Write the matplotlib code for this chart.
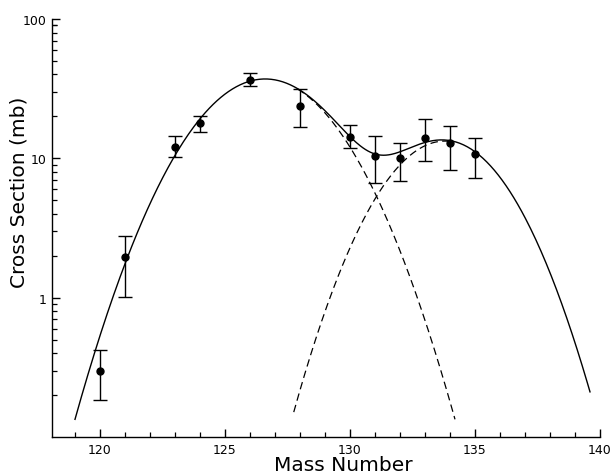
import numpy as np
import matplotlib
matplotlib.use("Agg")
import matplotlib.pyplot as plt
from matplotlib.ticker import FixedLocator, FixedFormatter, NullFormatter

# Measured cross sections (mb) with asymmetric uncertainties
mass = [120, 121, 123, 124, 126, 128, 130, 131, 132, 133, 134, 135]
sigma_mb = [0.30, 1.97, 12.0, 17.8, 36.5, 23.7, 14.3, 10.45, 10.05, 14.0, 12.8, 10.8]
err_hi = [0.42, 2.76, 14.5, 20.0, 41.0, 31.3, 17.4, 14.5, 12.8, 19.3, 17.0, 13.9]
err_lo = [0.184, 1.006, 10.2, 15.4, 33.2, 16.7, 11.9, 6.62, 6.91, 9.53, 8.28, 7.19]

# Two Gaussian components of the fit: (amplitude mb, centroid, width)
comp1 = (37.1, 126.6, 2.266)
comp2 = (13.3, 133.79, 2.018)

# Ranges over which each curve is drawn
sum_range = (119.0, 139.6)
comp1_range = (127.9, 134.2)
comp2_range = (127.75, 134.1)

xtick_major = [120, 125, 130, 135, 140]
xtick_labels = ["120", "125", "130", "135", "140"]
ytick_major = [1, 10, 100]
ytick_labels = ["1", "10", "100"]


def gauss(x, p):
    a, mu, s = p
    return a * np.exp(-(x - mu) ** 2 / (2 * s ** 2))


plt.rcParams["font.family"] = ["DejaVu Sans"]

fig = plt.figure(figsize=(6.13, 4.77), dpi=100)
ax = fig.add_axes([52 / 613, 1 - 438 / 477, (600 - 52) / 613, (438 - 20) / 477])

ax.set_yscale("log")
ax.set_xlim(118.08, 140.0)
ax.set_ylim(0.1, 100)

xs = np.linspace(*sum_range, 400)
ax.plot(xs, gauss(xs, comp1) + gauss(xs, comp2), color="black", lw=1.0)

x1 = np.linspace(*comp1_range, 200)
ax.plot(x1, gauss(x1, comp1), color="black", lw=0.9, dashes=(6, 3.5))
x2 = np.linspace(*comp2_range, 200)
ax.plot(x2, gauss(x2, comp2), color="black", lw=0.9, dashes=(6, 3.5))

yerr = [np.array(sigma_mb) - np.array(err_lo), np.array(err_hi) - np.array(sigma_mb)]
ax.errorbar(mass, sigma_mb, yerr=yerr, fmt="o", color="black", ms=5,
            elinewidth=1.0, capsize=5, capthick=1.0)

for side in ("top", "right"):
    ax.spines[side].set_visible(False)
for side in ("left", "bottom"):
    ax.spines[side].set_linewidth(1.0)

ax.xaxis.set_major_locator(FixedLocator(xtick_major))
ax.xaxis.set_major_formatter(FixedFormatter(xtick_labels))
ax.xaxis.set_minor_locator(FixedLocator(np.arange(119, 141, 1)))
ax.yaxis.set_major_locator(FixedLocator(ytick_major))
ax.yaxis.set_major_formatter(FixedFormatter(ytick_labels))
minor_y = [m * d for d in (0.1, 1, 10) for m in range(2, 10)] + [90]
ax.yaxis.set_minor_locator(FixedLocator(minor_y))
ax.yaxis.set_minor_formatter(NullFormatter())

ax.tick_params(which="major", direction="in", length=6, width=1.0, labelsize=9, pad=4)
ax.tick_params(which="minor", direction="in", length=3.5, width=0.9)

fig.text(19 / 613, 1 - 192 / 477, "Cross Section (mb)", rotation=90,
         ha="center", va="center", fontsize=14.5)
fig.text(343 / 613, 1 - 466 / 477, "Mass Number", ha="center", va="center",
         fontsize=14.5)

fig.savefig("out.png", dpi=100)
